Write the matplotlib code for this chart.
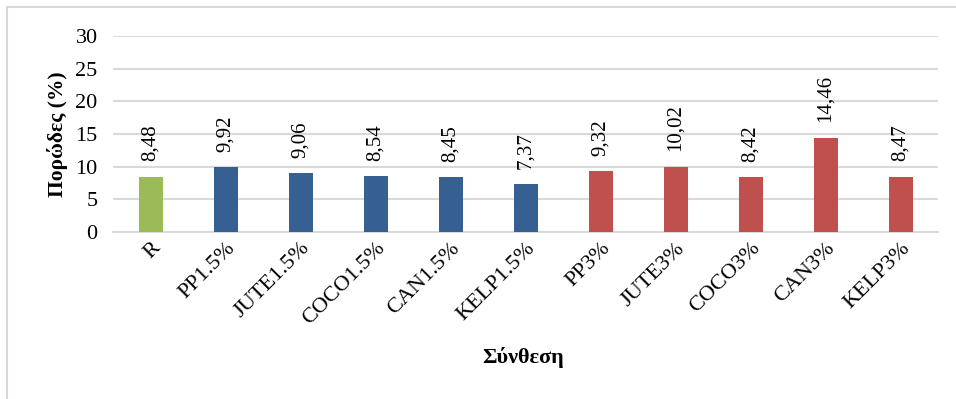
import matplotlib.pyplot as plt
from matplotlib.patches import Rectangle

# Porosity per mix
mixes = ["R", "PP1.5%", "JUTE1.5%", "COCO1.5%", "CAN1.5%", "KELP1.5%",
         "PP3%", "JUTE3%", "COCO3%", "CAN3%", "KELP3%"]
porosity = [8.48, 9.92, 9.06, 8.54, 8.45, 7.37, 9.32, 10.02, 8.42, 14.46, 8.47]
groups = ["ref", "1.5", "1.5", "1.5", "1.5", "1.5", "3", "3", "3", "3", "3"]
group_colors = {"ref": "#9BBB59", "1.5": "#376092", "3": "#C0504D"}

plt.rcParams['font.family'] = ['Liberation Serif', 'DejaVu Serif']

fig = plt.figure(figsize=(9.56, 3.99), dpi=100)
ax = fig.add_axes([113 / 956, 1 - 232 / 399, 825 / 956, 196 / 399])

x = list(range(len(mixes)))
colors = [group_colors[g] for g in groups]
ax.bar(x, porosity, width=0.32, color=colors, zorder=3)

# value labels, decimal comma
for xi, v in zip(x, porosity):
    ax.annotate(f"{v:.2f}".replace(".", ","), (xi, v), xytext=(0, 11),
                textcoords="offset points", rotation=90, ha="center",
                va="bottom", fontsize=15)

ax.set_xlim(-0.5, len(mixes) - 0.5)
ax.set_ylim(0, 30)
ax.set_yticks(range(0, 31, 5))
ax.yaxis.grid(True, color="#D9D9D9", linewidth=1.5, zorder=0)
ax.set_axisbelow(True)
for s in ["top", "right", "left"]:
    ax.spines[s].set_visible(False)
ax.spines["bottom"].set_color("#D9D9D9")
ax.spines["bottom"].set_linewidth(1.5)
ax.tick_params(axis="both", length=0, labelsize=16)
ax.tick_params(axis="y", pad=11)
ax.set_xticks(x)
ax.set_xticklabels(mixes, rotation=45, ha="right", va="top",
                   rotation_mode="anchor")
ax.tick_params(axis="x", pad=5)

ax.set_ylabel("Πορώδες (%)", fontsize=15.5, fontweight="bold")
ax.yaxis.set_label_coords(-0.0545, 0.5)
fig.text(523 / 956, 1 - 358 / 399, "Σύνθεση", fontsize=16, fontweight="bold",
         ha="center", va="center")

# chart frame (left and top edges only fall inside the figure)
fig.add_artist(Rectangle((7 / 956, -0.1), 1.2, 1 - 7 / 399 + 0.1,
                         transform=fig.transFigure, fill=False,
                         edgecolor="#D9D9D9", linewidth=1.5))

fig.savefig("out.png", dpi=100)
